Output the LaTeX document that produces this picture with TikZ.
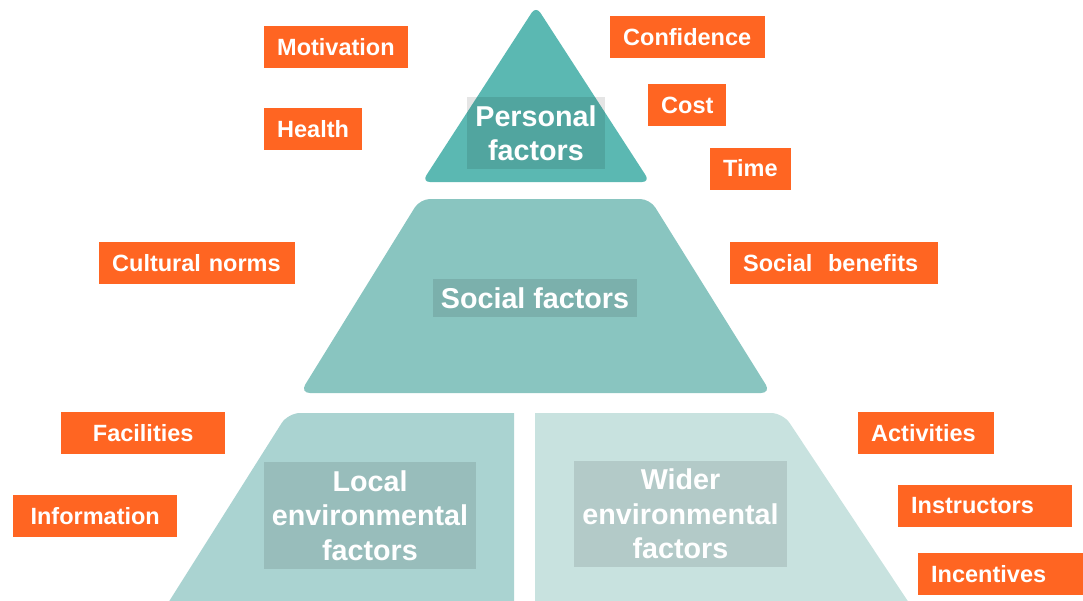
\documentclass[tikz,border=0pt]{standalone}
\usepackage{fontspec}
\setmainfont{Liberation Sans}
\definecolor{topteal}{RGB}{91,184,178}
\definecolor{midteal}{RGB}{137,197,192}
\definecolor{localteal}{RGB}{170,211,209}
\definecolor{widerteal}{RGB}{200,226,223}
\definecolor{factororange}{RGB}{255,101,34}

\begin{document}
\begin{tikzpicture}[x=1pt,y=-1pt,
    factor/.style={fill=factororange, text=white, anchor=west, minimum height=42pt,
        inner xsep=13pt, align=left, font=\fontsize{23.5}{28}\selectfont\bfseries},
    level/.style={fill=black, fill opacity=0.1, text opacity=1, text=white, inner sep=8pt,
        align=center, font=\fontsize{28.7}{34.5}\selectfont\bfseries}]
    \clip (0,0) rectangle (1083,600);
    % pyramid
    \fill[topteal, rounded corners=8pt] (422,182) -- (536,6) -- (650,182) -- cycle;
    \fill[midteal, rounded corners=10pt] (300,393) -- (420,199) -- (650,199) -- (771,393) -- cycle;
    \fill[localteal] (151,630) [rounded corners=12pt] -- (288,413) [sharp corners] -- (514,413) -- (514,630) -- cycle;
    \fill[widerteal] (535,630) -- (535,413) [rounded corners=12pt] -- (783,413) [sharp corners] -- (927,630) -- cycle;
    \node[level] at (536,133) (personal) {Personal\\factors};
    \node[level] at (535,298) (social) {Social factors};
    \node[level] at (370,515.5) (local) {Local\\environmental\\factors};
    \node[level] at (680.5,514) (wider) {Wider\\environmental\\factors};
    % factors round the pyramid
    \node[factor, text width=118pt] at (264,47) (motivation) {Motivation};
    \node[factor, text width=72pt] at (264,129) (health) {Health};
    \node[factor, text width=129pt] at (610,37) (confidence) {Confidence};
    \node[factor, text width=52pt] at (648,105) (cost) {Cost};
    \node[factor, text width=55pt] at (710,168.5) (time) {Time};
    \node[factor, text width=170pt] at (99,263) (cultural) {Cultural norms};
    \node[factor, text width=182pt] at (730,263) (benefits) {Social~~benefits};
    \node[factor, text width=138pt, align=center] at (61,433) (facilities) {Facilities};
    \node[factor, text width=138pt, align=center] at (13,516) (information) {Information};
    \node[factor, text width=110pt] at (858,433) (activities) {Activities};
    \node[factor, text width=148pt] at (898,506) (instructors) {Instructors};
    \node[factor, text width=139pt] at (918,574) (incentives) {Incentives};
\end{tikzpicture}
\end{document}
